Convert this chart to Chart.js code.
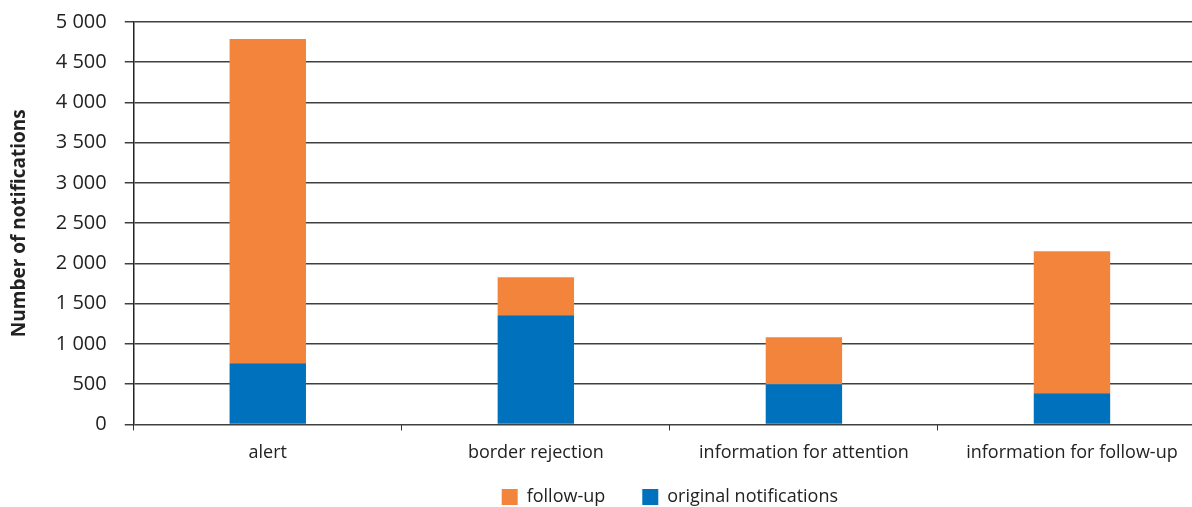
<!DOCTYPE html>
<html>
<head>
<meta charset="utf-8">
<script src="https://cdn.jsdelivr.net/npm/chart.js@4.4.0/dist/chart.umd.min.js"></script>
<style>
  html, body { margin: 0; padding: 0; background: #fff; overflow: hidden; }
  #wrap { position: relative; width: 1206px; height: 507px; }
</style>
</head>
<body>
<div id="wrap"><canvas id="chart"></canvas></div>
<script>
// categories and series
const categories = ['alert', 'border rejection', 'information for attention', 'information for follow-up'];
const originalValues = [759, 1356, 498, 386];
const followUpValues = [4030, 472, 584, 1766];
const yTicks = [0, 500, 1000, 1500, 2000, 2500, 3000, 3500, 4000, 4500, 5000];

const orange = '#f3843c';
const blue = '#0071bc';
const fontFamily = '"Open Sans", "Noto Sans", sans-serif';
const legendPad = 37;

function fmt(v) {
    return String(v).replace(/\B(?=(\d{3})+(?!\d))/g, ' ');
}

// legend: keep the wide gap between items but take little room at the bottom
const shortLegend = {
    id: 'shortLegend',
    afterInit: function(chart) {
        let lg = chart.legend;
        let orig = lg.fit;
        lg.fit = function() {
            orig.call(this);
            this.height = 31;
        };
    },
    afterLayout: function(chart) {
        let lg = chart.legend;
        lg.top = chart.height - 56;
        lg.bottom = chart.height;
        lg.height = 56;
    }
};

let ctx = document.getElementById('chart').getContext('2d');
let myChart = new Chart(ctx, {
    type: 'bar',
    data: {
        labels: categories,
        datasets: [{
            label: 'original notifications',
            data: originalValues,
            backgroundColor: blue,
            barPercentage: 0.285,
            categoryPercentage: 1
        }, {
            label: 'follow-up',
            data: followUpValues,
            backgroundColor: orange,
            barPercentage: 0.285,
            categoryPercentage: 1
        }]
    },
    plugins: [shortLegend],
    options: {
        responsive: true,
        maintainAspectRatio: false,
        animation: false,
        layout: { padding: 0 },
        scales: {
            x: {
                stacked: true,
                grid: {
                    offset: true,
                    drawOnChartArea: false,
                    drawTicks: true,
                    tickLength: 6,
                    color: '#333'
                },
                border: { display: false },
                ticks: {
                    color: '#222',
                    padding: 12,
                    font: { family: fontFamily, size: 18 },
                    maxRotation: 0
                }
            },
            y: {
                stacked: true,
                min: 0,
                max: 5000,
                afterBuildTicks: function(axis) {
                    axis.ticks = yTicks.map(v => ({ value: v }));
                },
                afterFit: function(axis) {
                    axis.paddingTop = 22;
                    axis.paddingBottom = 10;
                },
                grid: {
                    color: '#404040',
                    lineWidth: 1.5,
                    tickLength: 9
                },
                border: { display: true, color: '#222', width: 1.5 },
                ticks: {
                    color: '#222',
                    padding: 18,
                    font: { family: fontFamily, size: 20 },
                    callback: function(v) { return fmt(v); }
                },
                title: {
                    display: true,
                    text: 'Number of notifications',
                    color: '#222',
                    padding: { top: 8, bottom: 7 },
                    font: { family: fontFamily, size: 19, weight: 'bold' }
                }
            }
        },
        plugins: {
            tooltip: { enabled: false },
            legend: {
                position: 'bottom',
                fullSize: false,
                reverse: true,
                labels: {
                    boxWidth: 16,
                    boxHeight: 16,
                    padding: legendPad,
                    color: '#222',
                    font: { family: fontFamily, size: 18 }
                },
                onClick: null
            }
        }
    }
});
</script>
</body>
</html>
